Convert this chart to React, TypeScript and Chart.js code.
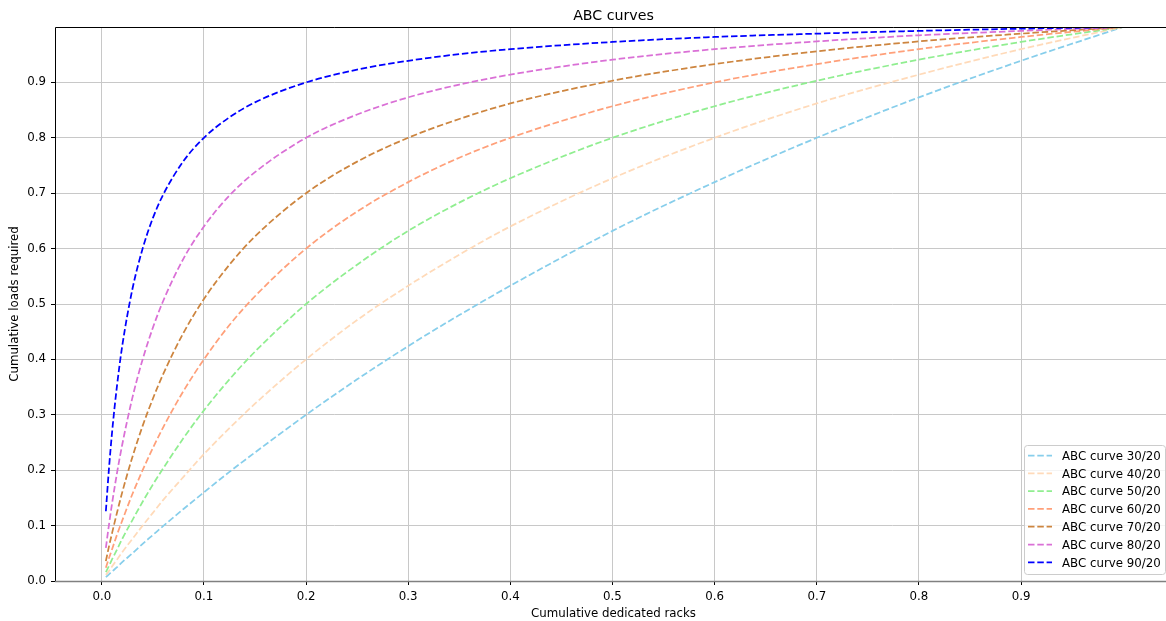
import React, { useEffect, useRef } from "react";
import { Chart, registerables } from "chart.js";
Chart.register(...registerables);

const xValues = [0.004, 0.007, 0.01, 0.015, 0.02, 0.03, 0.04, 0.05, 0.06, 0.08, 0.1, 0.125, 0.15, 0.2, 0.25, 0.3, 0.35, 0.4, 0.5, 0.6, 0.7, 0.8, 0.9, 1.0];

const curve30 = [0.007, 0.012, 0.017, 0.025, 0.034, 0.050, 0.067, 0.083, 0.099, 0.130, 0.160, 0.197, 0.232, 0.300, 0.364, 0.424, 0.480, 0.533, 0.632, 0.720, 0.800, 0.873, 0.939, 1.0];
const curve40 = [0.011, 0.018, 0.026, 0.039, 0.052, 0.076, 0.100, 0.123, 0.146, 0.188, 0.229, 0.276, 0.320, 0.400, 0.471, 0.533, 0.589, 0.640, 0.727, 0.800, 0.862, 0.914, 0.960, 1.0];
const curve50 = [0.016, 0.027, 0.039, 0.057, 0.076, 0.110, 0.143, 0.174, 0.203, 0.258, 0.308, 0.364, 0.414, 0.500, 0.571, 0.632, 0.683, 0.727, 0.800, 0.857, 0.903, 0.941, 0.973, 1.0];
const curve60 = [0.024, 0.041, 0.057, 0.084, 0.109, 0.157, 0.200, 0.240, 0.277, 0.343, 0.400, 0.462, 0.514, 0.600, 0.667, 0.720, 0.764, 0.800, 0.857, 0.900, 0.933, 0.960, 0.982, 1.0];
const curve70 = [0.036, 0.062, 0.086, 0.124, 0.160, 0.224, 0.280, 0.329, 0.373, 0.448, 0.509, 0.571, 0.622, 0.700, 0.757, 0.800, 0.834, 0.862, 0.903, 0.933, 0.956, 0.974, 0.988, 1.0];
const curve80 = [0.060, 0.101, 0.139, 0.196, 0.246, 0.331, 0.400, 0.457, 0.505, 0.582, 0.640, 0.696, 0.738, 0.800, 0.842, 0.873, 0.896, 0.914, 0.941, 0.960, 0.974, 0.985, 0.993, 1.0];
const curve90 = [0.126, 0.202, 0.267, 0.354, 0.424, 0.527, 0.600, 0.655, 0.697, 0.758, 0.800, 0.837, 0.864, 0.900, 0.923, 0.939, 0.951, 0.960, 0.973, 0.982, 0.988, 0.993, 0.997, 1.0];

const seriesValues = [curve30, curve40, curve50, curve60, curve70, curve80, curve90];
const seriesLabels = ["ABC curve 30/20", "ABC curve 40/20", "ABC curve 50/20", "ABC curve 60/20", "ABC curve 70/20", "ABC curve 80/20", "ABC curve 90/20"];
const seriesColors = ["#87CEEB", "#FFDAB9", "#90EE90", "#FFA07A", "#CD853F", "#DA70D6", "#0000FF"];

const xTicks = [0, 0.1, 0.2, 0.3, 0.4, 0.5, 0.6, 0.7, 0.8, 0.9];
const yTicks = [0, 0.1, 0.2, 0.3, 0.4, 0.5, 0.6, 0.7, 0.8, 0.9];

const chartTitle = "ABC curves";
const xTitle = "Cumulative dedicated racks";
const yTitle = "Cumulative loads required";

const FONT = '"DejaVu Sans", sans-serif';
const DASH = [6.5, 2.8];
const SMALL = 11.8;

const overlayPlugin = {
  id: "overlay",
  afterDatasetsDraw(chart: any) {
    const ctx = chart.ctx;
    const a = chart.chartArea;
    ctx.save();
    // spines
    ctx.strokeStyle = "#000";
    ctx.lineWidth = 1;
    ctx.beginPath();
    ctx.moveTo(a.left + 0.5, a.bottom);
    ctx.lineTo(a.left + 0.5, a.top + 0.5);
    ctx.lineTo(a.right + 0.5, a.top + 0.5);
    ctx.lineTo(a.right + 0.5, a.bottom);
    ctx.stroke();
    ctx.strokeStyle = "#808080";
    ctx.lineWidth = 1.5;
    ctx.beginPath();
    ctx.moveTo(a.left, a.bottom + 0.5);
    ctx.lineTo(a.right + 1, a.bottom + 0.5);
    ctx.stroke();

    // title
    ctx.fillStyle = "#000";
    ctx.font = `14.2px ${FONT}`;
    ctx.textAlign = "center";
    ctx.textBaseline = "alphabetic";
    ctx.fillText(chartTitle, (a.left + a.right) / 2, 20);

    // legend
    const bx = 1024.5, by = 445.5, bw = 141, bh = 129;
    ctx.fillStyle = "rgba(255,255,255,0.8)";
    ctx.strokeStyle = "#cccccc";
    ctx.lineWidth = 1;
    ctx.beginPath();
    (ctx as any).roundRect(bx, by, bw, bh, 3);
    ctx.fill();
    ctx.stroke();
    ctx.font = `${SMALL}px ${FONT}`;
    ctx.textAlign = "left";
    seriesLabels.forEach((lab, i) => {
      const cy = 455.5 + i * 17.8;
      ctx.strokeStyle = seriesColors[i];
      ctx.lineWidth = 1.75;
      ctx.setLineDash(DASH);
      ctx.beginPath();
      ctx.moveTo(1028, cy);
      ctx.lineTo(1052, cy);
      ctx.stroke();
      ctx.setLineDash([]);
      ctx.fillStyle = "#000";
      ctx.fillText(lab, 1062, cy + 4.3);
    });
    ctx.restore();
  },
};

export default function App() {
  const ref = useRef<HTMLCanvasElement>(null);
  useEffect(() => {
    if (!ref.current) return;
    const datasets = seriesValues.map((vals, i) => ({
      label: seriesLabels[i],
      data: vals.map((y, j) => ({ x: xValues[j], y })),
      borderColor: seriesColors[i],
      backgroundColor: seriesColors[i],
      borderWidth: 1.75,
      borderDash: DASH,
      pointRadius: 0,
      fill: false,
      cubicInterpolationMode: "monotone" as const,
      order: seriesValues.length - i,
    }));
    const chart = new Chart(ref.current, {
      type: "line",
      data: { datasets },
      plugins: [overlayPlugin],
      options: {
        responsive: false,
        devicePixelRatio: 1,
        animation: false,
        layout: { padding: { left: 0, right: 8, top: 27, bottom: 0 } },
        plugins: {
          legend: { display: false },
          title: { display: false },
          tooltip: { enabled: false },
        },
        scales: {
          x: {
            type: "linear",
            min: -0.0458,
            max: 1.0478,
            afterBuildTicks: (s: any) => {
              s.ticks = xTicks.map((v) => ({ value: v }));
            },
            afterFit: (s: any) => {
              s.height = 40;
            },
            ticks: {
              autoSkip: false,
              maxRotation: 0,
              padding: 5,
              color: "#000",
              font: { family: FONT, size: SMALL },
              callback: (v: any) => Number(v).toFixed(1),
            },
            grid: { color: "#c8c8c8", lineWidth: 1, tickColor: "#000", tickLength: 4, drawTicks: true },
            border: { display: false },
            title: {
              display: true,
              text: xTitle,
              color: "#000",
              font: { family: FONT, size: SMALL },
              padding: { top: 2, bottom: 0 },
            },
          },
          y: {
            type: "linear",
            min: 0,
            max: 1,
            afterBuildTicks: (s: any) => {
              s.ticks = yTicks.map((v) => ({ value: v }));
            },
            afterFit: (s: any) => {
              s.width = 55;
            },
            ticks: {
              autoSkip: false,
              padding: 5,
              color: "#000",
              font: { family: FONT, size: SMALL },
              callback: (v: any) => Number(v).toFixed(1),
            },
            grid: { color: "#c8c8c8", lineWidth: 1, tickColor: "#000", tickLength: 4, drawTicks: true },
            border: { display: false },
            title: {
              display: true,
              text: yTitle,
              color: "#000",
              font: { family: FONT, size: SMALL },
              padding: { top: 8, bottom: 0 },
            },
          },
        },
      },
    });
    return () => chart.destroy();
  }, []);
  return (
    <div style={{ position: "absolute", left: 0, top: 0, width: 1166, height: 621, overflow: "hidden", background: "#fff" }}>
      <canvas ref={ref} width={1180} height={621} style={{ display: "block", width: 1180, height: 621 }} />
    </div>
  );
}
